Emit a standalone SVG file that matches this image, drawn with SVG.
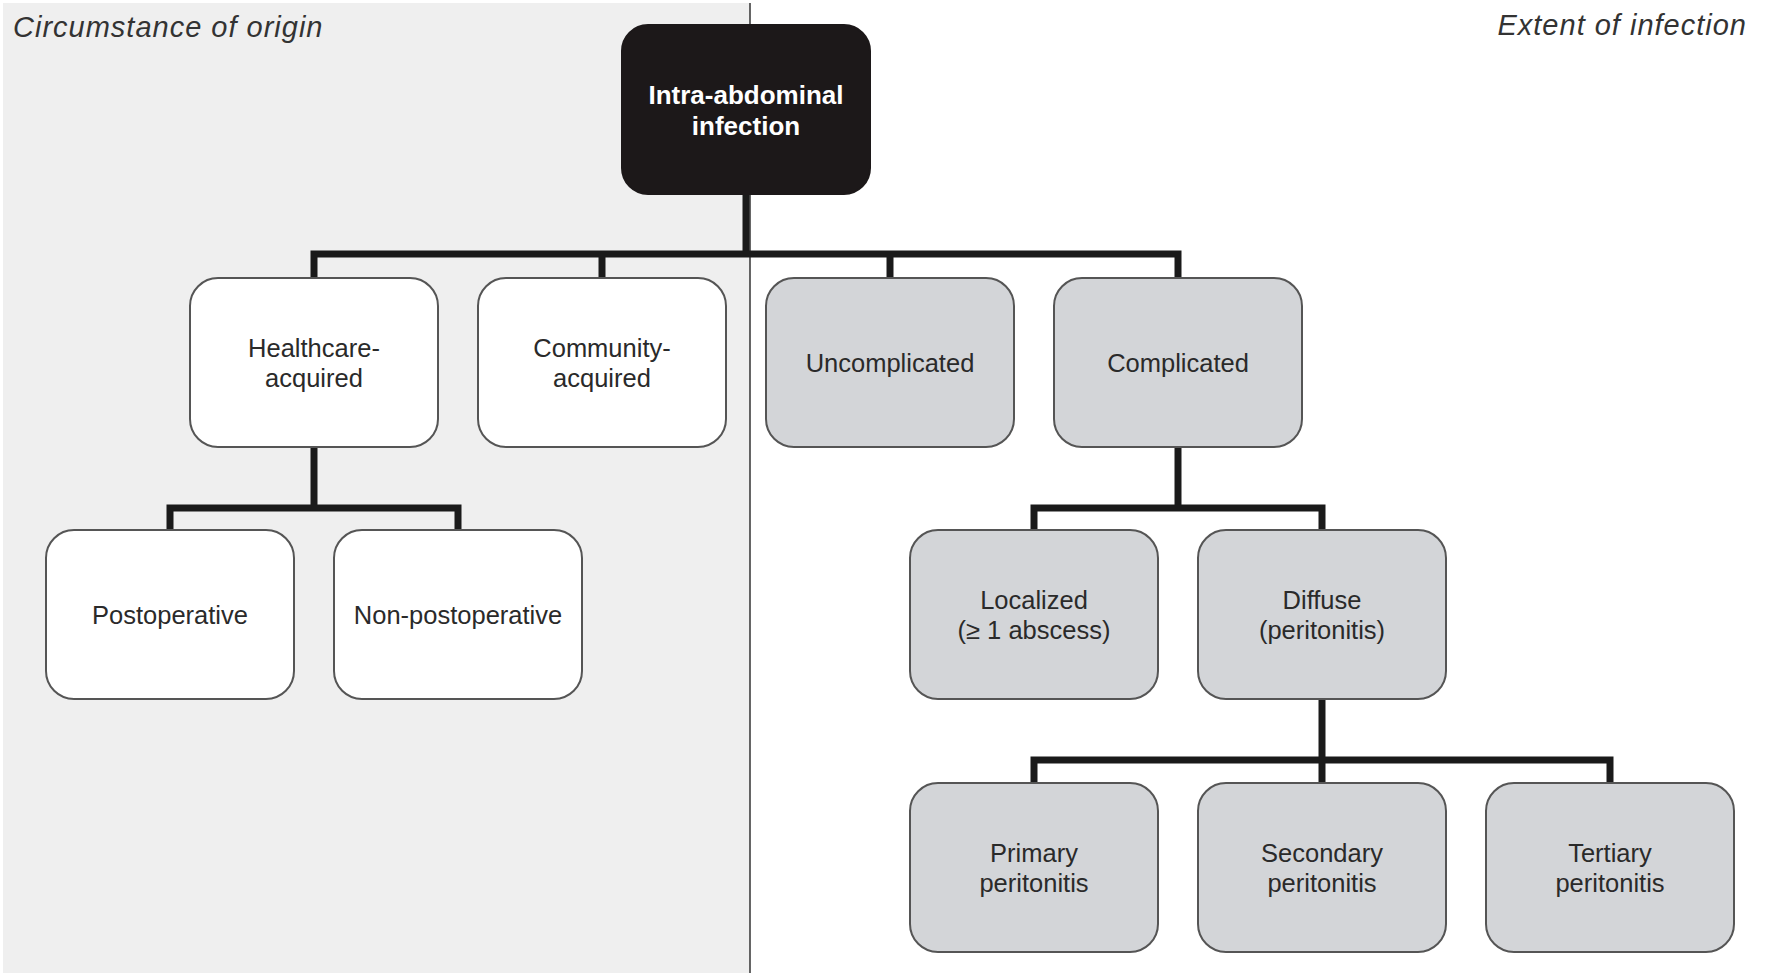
<svg xmlns="http://www.w3.org/2000/svg" width="1765" height="973" viewBox="0 0 1765 973">
<style>
.title{font-family:"Liberation Sans",Arial,sans-serif;font-style:italic;font-size:29px;letter-spacing:1px;fill:#333}
.box{stroke:#555;stroke-width:2}
.w{fill:#ffffff}
.g{fill:#d3d5d8}
.root{fill:#1c1819;stroke:#1c1819;stroke-width:2}
.lbl{font-family:"Liberation Sans",Arial,sans-serif;font-size:25.5px;fill:#2a2a2a;text-anchor:middle}
.rlbl{font-family:"Liberation Sans",Arial,sans-serif;font-size:26px;font-weight:bold;fill:#ffffff;text-anchor:middle}
.conn{fill:none;stroke:#1a1a1a;stroke-width:7;stroke-linejoin:miter;stroke-linecap:butt}
</style>
<rect x="0" y="0" width="1765" height="973" fill="#ffffff"/>
<rect x="3" y="3" width="747" height="970" fill="#efefef"/>
<line x1="750" y1="3" x2="750" y2="973" stroke="#333" stroke-width="1.5"/>
<text class="title" x="13" y="37">Circumstance of origin</text>
<text class="title" x="1747" y="35" text-anchor="end">Extent of infection</text>

<g id="connectors">
<path class="conn" d="M746,194 V254"/>
<path class="conn" d="M314,278 V254 H1178 V278"/>
<path class="conn" d="M602,254 V278"/>
<path class="conn" d="M890,254 V278"/>
<path class="conn" d="M314,447 V508"/>
<path class="conn" d="M170,530 V508 H458 V530"/>
<path class="conn" d="M1178,447 V508"/>
<path class="conn" d="M1034,530 V508 H1322 V530"/>
<path class="conn" d="M1322,699 V760"/>
<path class="conn" d="M1034,783 V760 H1610 V783"/>
<path class="conn" d="M1322,760 V783"/>
</g>

<g id="root">
<rect class="root" x="622" y="25" width="248" height="169" rx="26"/>
<text class="rlbl" x="746" y="104">Intra-abdominal</text>
<text class="rlbl" x="746" y="135">infection</text>
</g>

<g id="healthcare">
<rect class="box w" x="190" y="278" width="248" height="169" rx="28"/>
<text class="lbl" x="314" y="356.5">Healthcare-</text>
<text class="lbl" x="314" y="386.5">acquired</text>
</g>
<g id="community">
<rect class="box w" x="478" y="278" width="248" height="169" rx="28"/>
<text class="lbl" x="602" y="356.5">Community-</text>
<text class="lbl" x="602" y="386.5">acquired</text>
</g>
<g id="uncomplicated">
<rect class="box g" x="766" y="278" width="248" height="169" rx="28"/>
<text class="lbl" x="890" y="371.5">Uncomplicated</text>
</g>
<g id="complicated">
<rect class="box g" x="1054" y="278" width="248" height="169" rx="28"/>
<text class="lbl" x="1178" y="371.5">Complicated</text>
</g>

<g id="postoperative">
<rect class="box w" x="46" y="530" width="248" height="169" rx="28"/>
<text class="lbl" x="170" y="623.5">Postoperative</text>
</g>
<g id="nonpostoperative">
<rect class="box w" x="334" y="530" width="248" height="169" rx="28"/>
<text class="lbl" x="458" y="623.5">Non-postoperative</text>
</g>
<g id="localized">
<rect class="box g" x="910" y="530" width="248" height="169" rx="28"/>
<text class="lbl" x="1034" y="608.5">Localized</text>
<text class="lbl" x="1034" y="638.5">(≥ 1 abscess)</text>
</g>
<g id="diffuse">
<rect class="box g" x="1198" y="530" width="248" height="169" rx="28"/>
<text class="lbl" x="1322" y="608.5">Diffuse</text>
<text class="lbl" x="1322" y="638.5">(peritonitis)</text>
</g>

<g id="primary">
<rect class="box g" x="910" y="783" width="248" height="169" rx="28"/>
<text class="lbl" x="1034" y="861.5">Primary</text>
<text class="lbl" x="1034" y="891.5">peritonitis</text>
</g>
<g id="secondary">
<rect class="box g" x="1198" y="783" width="248" height="169" rx="28"/>
<text class="lbl" x="1322" y="861.5">Secondary</text>
<text class="lbl" x="1322" y="891.5">peritonitis</text>
</g>
<g id="tertiary">
<rect class="box g" x="1486" y="783" width="248" height="169" rx="28"/>
<text class="lbl" x="1610" y="861.5">Tertiary</text>
<text class="lbl" x="1610" y="891.5">peritonitis</text>
</g>
</svg>
